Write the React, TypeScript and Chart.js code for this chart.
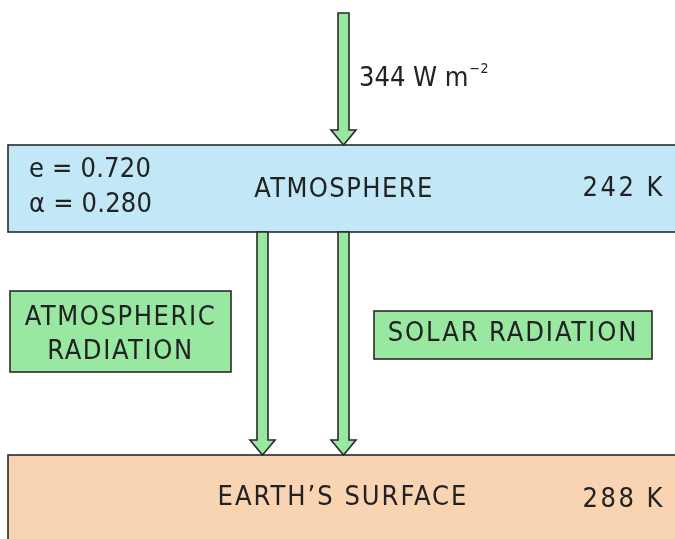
import React, { useEffect, useRef } from "react";
import { Chart, registerables } from "chart.js";

Chart.register(...registerables);

// ---- data ----
const fluxValue = [344];
const fluxUnit = ["W m", "−2"];
const layerNames = ["ATMOSPHERE", "EARTH’S SURFACE"];
const layerTemps = [242, 288];
const atmosphereProps = ["e", "α"];
const atmosphereValues = [0.72, 0.28];
const radiationLabels = [["ATMOSPHERIC", "RADIATION"], ["SOLAR RADIATION"]];

// ---- layout (diagram coordinates, px space of 675x539) ----
const L = {
  atm: { x0: 8, x1: 690, y0: 145, y1: 232 },
  surf: { x0: 8, x1: 690, y0: 455, y1: 560 },
  atmRadBox: { x0: 10, x1: 231, y0: 291, y1: 372 },
  solRadBox: { x0: 374, x1: 652, y0: 311, y1: 359 },
  arrowTop: { cx: 343.5, y0: 13, y1: 145 },
  arrowLeft: { cx: 262.5, y0: 232, y1: 455 },
  arrowRight: { cx: 343.5, y0: 232, y1: 455 },
};

const COLORS = {
  blue: "#c2e8f7",
  peach: "#f9d4b3",
  green: "#98e8a1",
  stroke: "#2a2a2a",
  text: "#222222",
};

const FONT = "'DejaVu Sans Condensed', 'Open Sans', sans-serif";
const FS = 27;

const diagramPlugin = {
  id: "diagram",
  beforeDatasetsDraw(chart: any) {
    const { ctx } = chart;
    const xs = chart.scales.x;
    const ys = chart.scales.y;
    const px = (v: number) => xs.getPixelForValue(v);
    const py = (v: number) => ys.getPixelForValue(v);

    const rect = (r: any, fill: string, lw = 1.6) => {
      ctx.save();
      ctx.fillStyle = fill;
      ctx.strokeStyle = COLORS.stroke;
      ctx.lineWidth = lw;
      const x = px(r.x0), y = py(r.y0);
      const w = px(r.x1) - x, h = py(r.y1) - y;
      ctx.fillRect(x, y, w, h);
      ctx.strokeRect(x, y, w, h);
      ctx.restore();
    };

    const arrow = (a: any) => {
      const half = 5.5;
      const headHalf = 12.5;
      const headLen = 15;
      ctx.save();
      ctx.fillStyle = COLORS.green;
      ctx.strokeStyle = COLORS.stroke;
      ctx.lineWidth = 1.6;
      ctx.lineJoin = "miter";
      ctx.beginPath();
      ctx.moveTo(px(a.cx - half), py(a.y0));
      ctx.lineTo(px(a.cx + half), py(a.y0));
      ctx.lineTo(px(a.cx + half), py(a.y1 - headLen));
      ctx.lineTo(px(a.cx + headHalf), py(a.y1 - headLen));
      ctx.lineTo(px(a.cx), py(a.y1));
      ctx.lineTo(px(a.cx - headHalf), py(a.y1 - headLen));
      ctx.lineTo(px(a.cx - half), py(a.y1 - headLen));
      ctx.closePath();
      ctx.fill();
      ctx.stroke();
      ctx.restore();
    };

    const measure = (s: string, size: number, spacing: number) => {
      ctx.save();
      ctx.font = `${size}px ${FONT}`;
      (ctx as any).letterSpacing = `${spacing}px`;
      const w = ctx.measureText(s).width;
      ctx.restore();
      return w;
    };

    const text = (s: string, x: number, y: number, size: number, align: CanvasTextAlign = "left", spacing = 1) => {
      ctx.save();
      ctx.fillStyle = COLORS.text;
      ctx.font = `${size}px ${FONT}`;
      (ctx as any).letterSpacing = `${spacing}px`;
      ctx.textAlign = align;
      ctx.textBaseline = "middle";
      ctx.fillText(s, px(x), py(y));
      ctx.restore();
    };

    // background boxes
    rect(L.atm, COLORS.blue);
    rect(L.surf, COLORS.peach);

    // arrows
    arrow(L.arrowTop);
    arrow(L.arrowLeft);
    arrow(L.arrowRight);

    // label boxes
    rect(L.atmRadBox, COLORS.green);
    rect(L.solRadBox, COLORS.green);

    // flux label
    const fluxMain = `${fluxValue[0]} ${fluxUnit[0]}`;
    text(fluxMain, 359, 79, FS, "left", 0);
    const w = measure(fluxMain, FS, 0);
    text(fluxUnit[1], 359 + w + 1, 69, 14, "left", 0.5);

    // atmosphere
    text(`${atmosphereProps[0]} = ${atmosphereValues[0].toFixed(3)}`, 29, 170, FS, "left", 0.2);
    text(`${atmosphereProps[1]} = ${atmosphereValues[1].toFixed(3)}`, 29, 205, FS, "left", 0.2);
    text(layerNames[0], 344, 190, FS, "center", 1.4);
    text(`${layerTemps[0]} K`, 665, 189, FS, "right", 2.5);

    // surface
    text(layerNames[1], 343, 498, FS, "center", 2);
    text(`${layerTemps[1]} K`, 665, 500, FS, "right", 2.5);

    // radiation labels
    const ab = L.atmRadBox;
    const acx = (ab.x0 + ab.x1) / 2;
    text(radiationLabels[0][0], acx, 318, FS, "center", 1.6);
    text(radiationLabels[0][1], acx, 352, FS, "center", 1.6);
    const sb = L.solRadBox;
    text(radiationLabels[1][0], (sb.x0 + sb.x1) / 2, 334, FS, "center", 1.9);
  },
};

export default function App() {
  const ref = useRef<HTMLCanvasElement | null>(null);
  useEffect(() => {
    if (!ref.current) return;
    const chart = new Chart(ref.current, {
      type: "scatter",
      data: { datasets: [{ data: [], pointRadius: 0 }] },
      options: {
        animation: false,
        responsive: false,
        maintainAspectRatio: false,
        layout: { padding: 0 },
        plugins: { legend: { display: false }, tooltip: { enabled: false } },
        scales: {
          x: { type: "linear", min: 0, max: 675, display: false },
          y: { type: "linear", min: 0, max: 539, reverse: true, display: false },
        },
      },
      plugins: [diagramPlugin],
    });
    return () => chart.destroy();
  }, []);
  return (
    <div style={{ position: "fixed", left: 0, top: 0, width: 675, height: 539, background: "#ffffff" }}>
      <canvas ref={ref} width={675} height={539} style={{ display: "block", width: 675, height: 539 }} />
    </div>
  );
}
